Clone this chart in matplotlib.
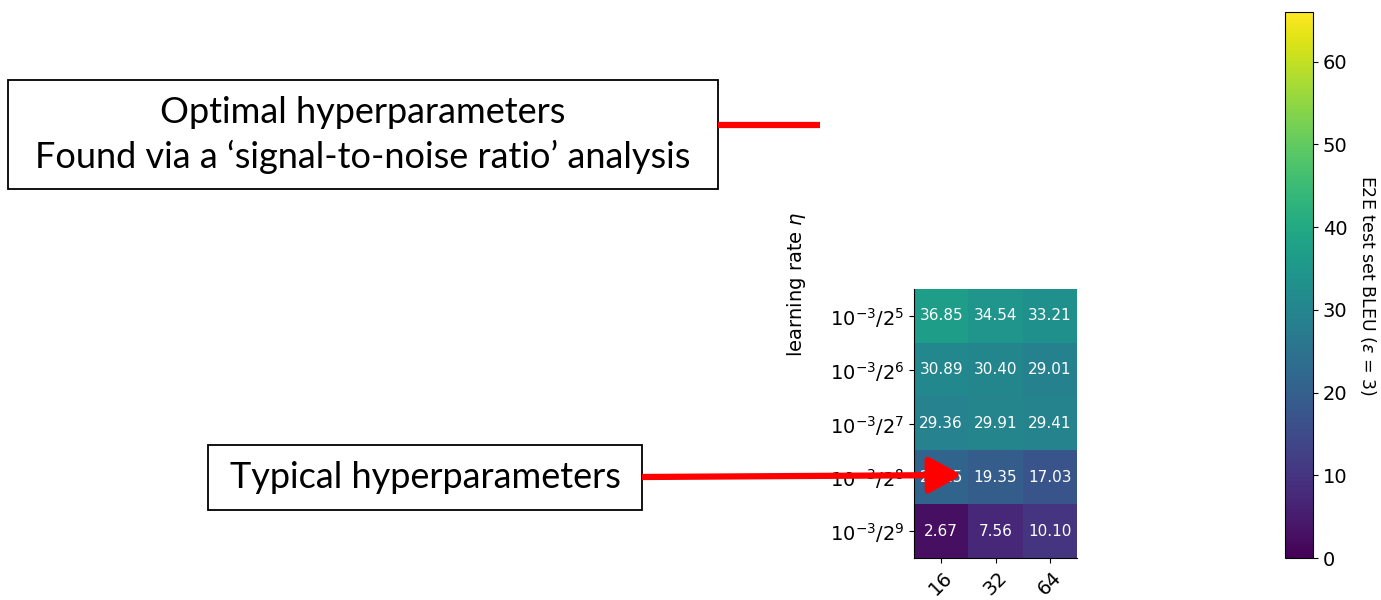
import numpy as np
import matplotlib.pyplot as plt
from matplotlib.patches import FancyArrowPatch

plt.rcParams['font.family'] = ['DejaVu Sans']
plt.rcParams['mathtext.fontset'] = 'dejavusans'

batch_sizes = ["16", "32", "64"]
lr_labels = [r"$10^{-3}/2^{5}$", r"$10^{-3}/2^{6}$", r"$10^{-3}/2^{7}$",
             r"$10^{-3}/2^{8}$", r"$10^{-3}/2^{9}$"]
bleu = np.array([
    [36.85, 34.54, 33.21],
    [30.89, 30.40, 29.01],
    [29.36, 29.91, 29.41],
    [21.15, 19.35, 17.03],
    [2.67, 7.56, 10.10],
])
vmin, vmax = 0, 66

fig = plt.figure(figsize=(13.81, 6.0), dpi=100)
W, H = 1381, 600

def ax_rect(x0, y0, x1, y1):
    return [x0 / W, 1 - y1 / H, (x1 - x0) / W, (y1 - y0) / H]

ax = fig.add_axes(ax_rect(914, 289, 1077, 558))
im = ax.imshow(bleu, cmap="viridis", vmin=vmin, vmax=vmax, aspect="auto")
for i in range(bleu.shape[0]):
    for j in range(bleu.shape[1]):
        ax.text(j, i, "%.2f" % bleu[i, j], ha="center", va="center",
                color="white", fontsize=11)
ax.set_xticks(np.arange(len(batch_sizes)))
ax.set_xticklabels(batch_sizes, rotation=45, fontsize=14)
ax.set_yticks(np.arange(len(lr_labels)))
ax.set_yticklabels(lr_labels, fontsize=14)
for s in ["top", "right"]:
    ax.spines[s].set_visible(False)
fig.text(797 / W, 1 - 284 / H, r"learning rate $\eta$", rotation=90,
         ha="center", va="center", fontsize=14)

cax = fig.add_axes(ax_rect(1285, 12, 1313, 558))
cb = fig.colorbar(im, cax=cax)
cb.set_ticks([0, 10, 20, 30, 40, 50, 60])
cb.ax.tick_params(labelsize=14)
cb.set_label(r"E2E test set BLEU ($\varepsilon$ = 3)", rotation=270,
             fontsize=12.5, labelpad=22)

# annotations on top of the figure, in pixel coordinates
ov = fig.add_axes([0, 0, 1, 1], facecolor="none")
ov.set_xlim(0, W)
ov.set_ylim(H, 0)
ov.axis("off")

ov.add_patch(plt.Rectangle((8, 80), 710, 109, fill=False, lw=1.3, ec="black"))
ov.text(363, 135, "Optimal hyperparameters\nFound via a \u2018signal-to-noise ratio\u2019 analysis",
        ha="center", va="center", fontsize=26, family="Lato", linespacing=1.35)
ov.plot([718, 820], [125, 125], color="red", lw=4.5, solid_capstyle="butt")

ov.add_patch(plt.Rectangle((208, 445), 434, 65, fill=False, lw=1.3, ec="black"))
ov.text(425, 478, "Typical hyperparameters", ha="center", va="center",
        fontsize=26, family="Lato")
arrow = FancyArrowPatch((642, 477), (962, 475), arrowstyle="-|>,head_length=20,head_width=11",
                        color="red", lw=4.5, mutation_scale=1, shrinkA=0, shrinkB=0,
                        capstyle="butt")
ov.add_patch(arrow)

fig.savefig("out.png", dpi=100)
